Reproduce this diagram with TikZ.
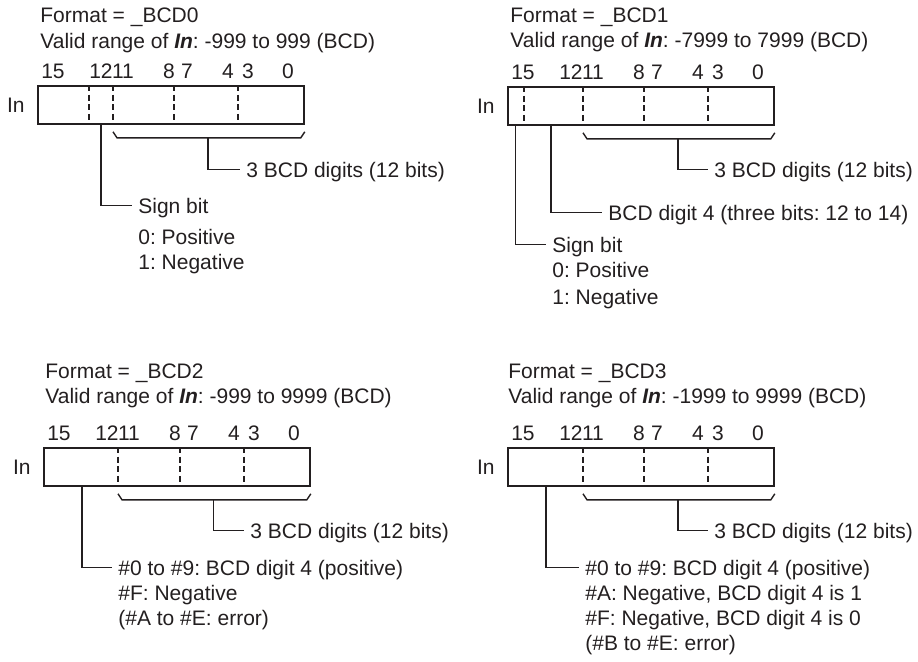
\documentclass[tikz,border=0pt]{standalone}
\usepackage{fontspec}
\setmainfont{Liberation Sans}
\usepackage{tikz}
\usetikzlibrary{positioning,calc}
\definecolor{inkblack}{HTML}{231F20}
\frenchspacing
\tikzset{
  txt/.style={font=\fontsize{10.5}{12.5}\selectfont, text=inkblack, inner sep=0pt},
  lbl/.style={txt, align=left, inner xsep=3pt, inner ysep=0pt, anchor=base west},
  multilbl/.style={lbl, anchor=north west},
  bitnum/.style={txt, anchor=base},
  regbox/.style={draw=inkblack, line width=0.9pt, minimum width=133pt, minimum height=19pt, inner sep=0pt, anchor=north west},
  divider/.style={draw=inkblack, line width=0.7pt, dash pattern=on 3pt off 1.8pt},
  lead/.style={draw=inkblack, line width=0.7pt}
}

\begin{document}
\begin{tikzpicture}[x=0.5pt,y=-0.5pt]
  \useasboundingbox (0,0) rectangle (918,661);
  % _BCD0
  \begin{scope}[shift={(37,85)}]
    \node[txt, anchor=base west] (fmt0) at (3,-63) {Format = \_BCD0};
    \node[txt, anchor=base west] (rng0) at (3,-37) {Valid range of \textbf{\textit{In}}: -999 to 999 (BCD)};
    \node[regbox] (r0) at (0,0) {};
    \node[txt, left=6pt of r0] (in0) {In};
    \foreach \x/\b in {16/15,64/12,86/11,132/8,150/7,191/4,211/3,251/0}
      \node[bitnum] (b0-\b) at (\x,-7) {\b};
    \foreach \x in {52,76,137,201}
      \draw[divider] ($(r0.north west)+(\x,0)$) -- ($(r0.south west)+(\x,0)$);
    \draw[lead] ($(r0.south west)+(76,7)$) -- ++(4,6) -- ($(r0.south east)+(-4,13)$) -- ++(4,-6);
    \node[lbl] (dig0) at (203,92) {3 BCD digits (12 bits)};
    \draw[lead] ($(r0.south west)+(171,13)$) |- ([yshift=3.7pt]dig0.base west);
    \node[multilbl] (sign0) at (95,112.6) {Sign bit\\[3pt]0: Positive\\1: Negative};
    \draw[lead] ($(r0.south west)+(64,0)$) |- ([yshift=-4pt]sign0.north west);
  \end{scope}
  % _BCD1
  \begin{scope}[shift={(507,86)}]
    \node[txt, anchor=base west] (fmt1) at (3,-64) {Format = \_BCD1};
    \node[txt, anchor=base west] (rng1) at (3,-39) {Valid range of \textbf{\textit{In}}: -7999 to 7999 (BCD)};
    \node[regbox] (r1) at (0,0) {};
    \node[txt, left=6pt of r1] (in1) {In};
    \foreach \x/\b in {16/15,64/12,86/11,132/8,150/7,191/4,211/3,251/0}
      \node[bitnum] (b1-\b) at (\x,-7) {\b};
    \foreach \x in {17,76,137,201}
      \draw[divider] ($(r1.north west)+(\x,0)$) -- ($(r1.south west)+(\x,0)$);
    \draw[lead] ($(r1.south west)+(76,7)$) -- ++(4,6) -- ($(r1.south east)+(-4,13)$) -- ++(4,-6);
    \node[lbl] (dig1) at (201,91) {3 BCD digits (12 bits)};
    \draw[lead] ($(r1.south west)+(171,13)$) |- ([yshift=3.7pt]dig1.base west);
    \node[lbl] (four1) at (95,134) {BCD digit 4 (three bits: 12 to 14)};
    \draw[lead] ($(r1.south west)+(44,0)$) |- ([yshift=3.7pt]four1.base west);
    \node[multilbl] (sign1) at (39,150.6) {Sign bit\\0: Positive\\[1pt]1: Negative};
    \draw[lead] ($(r1.south west)+(8.5,0)$) |- ([yshift=-4pt]sign1.north west);
  \end{scope}
  % _BCD2
  \begin{scope}[shift={(43,447)}]
    \node[txt, anchor=base west] (fmt2) at (2,-69) {Format = \_BCD2};
    \node[txt, anchor=base west] (rng2) at (2,-44) {Valid range of \textbf{\textit{In}}: -999 to 9999 (BCD)};
    \node[regbox] (r2) at (0,0) {};
    \node[txt, left=6pt of r2] (in2) {In};
    \foreach \x/\b in {16/15,64/12,86/11,132/8,150/7,191/4,211/3,251/0}
      \node[bitnum] (b2-\b) at (\x,-7) {\b};
    \foreach \x in {75,137,201}
      \draw[divider] ($(r2.north west)+(\x,0)$) -- ($(r2.south west)+(\x,0)$);
    \draw[lead] ($(r2.south west)+(75,7)$) -- ++(4,6) -- ($(r2.south east)+(-4,13)$) -- ++(4,-6);
    \node[lbl] (dig2) at (201,91) {3 BCD digits (12 bits)};
    \draw[lead] ($(r2.south west)+(170.5,13)$) |- ([yshift=3.7pt]dig2.base west);
    \node[multilbl] (val2) at (69,112.6) {\#0 to \#9: BCD digit 4 (positive)\\\#F: Negative\\(\#A to \#E: error)};
    \draw[lead] ($(r2.south west)+(39,0)$) |- ([yshift=-4pt]val2.north west);
  \end{scope}
  % _BCD3
  \begin{scope}[shift={(507,447)}]
    \node[txt, anchor=base west] (fmt3) at (1,-69) {Format = \_BCD3};
    \node[txt, anchor=base west] (rng3) at (1,-44) {Valid range of \textbf{\textit{In}}: -1999 to 9999 (BCD)};
    \node[regbox] (r3) at (0,0) {};
    \node[txt, left=6pt of r3] (in3) {In};
    \foreach \x/\b in {16/15,64/12,86/11,132/8,150/7,191/4,211/3,251/0}
      \node[bitnum] (b3-\b) at (\x,-7) {\b};
    \foreach \x in {76,137,201}
      \draw[divider] ($(r3.north west)+(\x,0)$) -- ($(r3.south west)+(\x,0)$);
    \draw[lead] ($(r3.south west)+(76,7)$) -- ++(4,6) -- ($(r3.south east)+(-4,13)$) -- ++(4,-6);
    \node[lbl] (dig3) at (201,91) {3 BCD digits (12 bits)};
    \draw[lead] ($(r3.south west)+(171,13)$) |- ([yshift=3.7pt]dig3.base west);
    \node[multilbl] (val3) at (72,112.6) {\#0 to \#9: BCD digit 4 (positive)\\\#A: Negative, BCD digit 4 is 1\\\#F: Negative, BCD digit 4 is 0\\(\#B to \#E: error)};
    \draw[lead] ($(r3.south west)+(39,0)$) |- ([yshift=-4pt]val3.north west);
  \end{scope}
\end{tikzpicture}
\end{document}
